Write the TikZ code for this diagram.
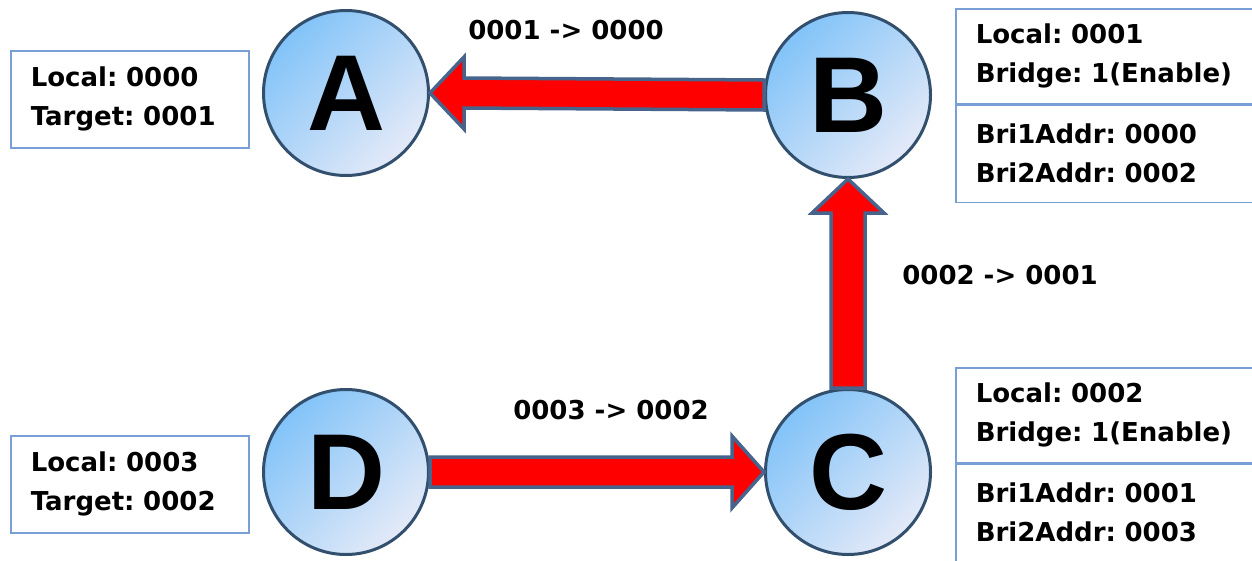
\documentclass[tikz,border=0pt]{standalone}
\usepackage{fontspec}
\setmainfont{DejaVu Sans}
\newfontfamily\letterfont{Liberation Sans}
\usetikzlibrary{calc}
\frenchspacing

\definecolor{ballblue}{RGB}{130,195,248}
\definecolor{ballwhite}{RGB}{228,234,248}
\definecolor{ballrim}{RGB}{50,80,110}
\definecolor{boxblue}{RGB}{120,160,215}
\definecolor{arrowrim}{RGB}{70,100,140}

\tikzset{
  ball/.style={circle, draw=ballrim, line width=3pt, minimum size=165pt, inner sep=0pt,
    top color=ballblue, bottom color=ballwhite, shading angle=45,
    font=\letterfont\bfseries\fontsize{108}{108}\selectfont},
  infobox/.style={draw=boxblue, line width=1.5pt, inner xsep=20pt, inner ysep=0pt,
    align=left, anchor=north west, font=\bfseries\fontsize{26}{39}\selectfont},
  fatarrow/.style={fill=red, draw=arrowrim, line width=3.5pt, line join=miter},
  hop/.style={font=\bfseries\fontsize{26}{30}\selectfont}
}

\begin{document}
\begin{tikzpicture}[x=1pt,y=-1pt]
        \useasboundingbox (0,0) rectangle (1252,560);

        \node[ball] at (346,93) (A) {A};
        \node[ball] at (848,95) (B) {B};
        \node[ball] at (848,472) (C) {C};
        \node[ball] at (346,472) (D) {D};

        \node[infobox, text width=198pt, minimum height=97pt] at (10,50) (aInfo) {Local: 0000\\Target: 0001};
        \node[infobox, text width=198pt, minimum height=97pt] at (10,435) (dInfo) {Local: 0003\\Target: 0002};
        \node[infobox, text width=305pt, minimum height=95pt] at (955,8) (bTop) {Local: 0001\\Bridge: 1(Enable)};
        \node[infobox, text width=305pt, minimum height=97pt] at (bTop.south west) (bBot) {Bri1Addr: 0000\\Bri2Addr: 0002};
        \node[infobox, text width=305pt, minimum height=95pt] at (955,367) (cTop) {Local: 0002\\Bridge: 1(Enable)};
        \node[infobox, text width=305pt, minimum height=97pt] at (cTop.south west) (cBot) {Bri1Addr: 0001\\Bri2Addr: 0003};

        \draw[fatarrow] ($(B.west)+(0,-15)$) -- ($(A.east)+(34,-15)$) -- ($(A.east)+(34,-36)$) -- (A.east)
            -- ($(A.east)+(34,36)$) -- ($(A.east)+(34,15)$) -- ($(B.west)+(0,15)$) -- cycle;
        \draw[fatarrow] ($(C.north)+(-17,0)$) -- ($(B.south)+(-17,34)$) -- ($(B.south)+(-36,34)$) -- (B.south)
            -- ($(B.south)+(36,34)$) -- ($(B.south)+(17,34)$) -- ($(C.north)+(17,0)$) -- cycle;
        \draw[fatarrow] ($(D.east)+(0,-15)$) -- ($(C.west)+(-32,-15)$) -- ($(C.west)+(-32,-36)$) -- (C.west)
            -- ($(C.west)+(-32,36)$) -- ($(C.west)+(-32,15)$) -- ($(D.east)+(0,15)$) -- cycle;

        \node[hop] at (566,30) (baHop) {0001 {-}> 0000};
        \node[hop] at (1000,275) (cbHop) {0002 {-}> 0001};
        \node[hop] at (611,410) (dcHop) {0003 {-}> 0002};
\end{tikzpicture}
\end{document}
